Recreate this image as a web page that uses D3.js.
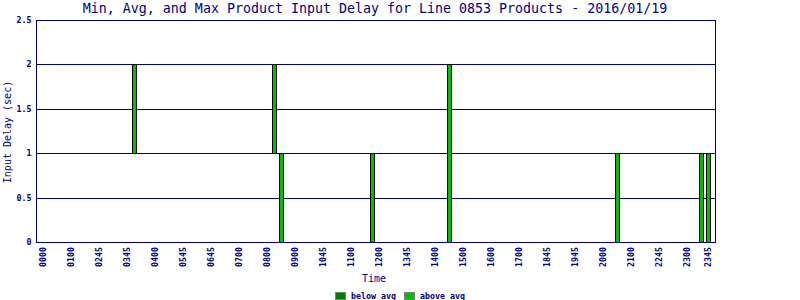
<!DOCTYPE html>
<html>
<head>
<meta charset="utf-8">
<script src="https://d3js.org/d3.v7.min.js"></script>
<style>
body { margin: 0; background: #fff; }
text { font-family: "DejaVu Sans Mono", monospace; fill: #000080; }
.small { font-size: 8.3px; font-weight: bold; }
</style>
</head>
<body>
<script>
// time slots along the x axis (only every 4th one is printed on the chart)
var times = [
  "0000","0015","0030","0045","0100","0130","0200","0230",
  "0245","0300","0315","0330","0345","0350","0352","0355",
  "0400","0430","0500","0530","0545","0600","0615","0630",
  "0645","0650","0655","0658","0700","0715","0730","0745",
  "0800","0815","0830","0845","0900","0945","1000","1030",
  "1045","1050","1055","1058","1100","1115","1130","1145",
  "1200","1230","1300","1330","1345","1350","1355","1358",
  "1400","1415","1430","1445","1500","1515","1530","1545",
  "1600","1615","1630","1645","1700","1730","1800","1830",
  "1845","1900","1915","1930","1945","1950","1955","1958",
  "2000","2015","2030","2045","2100","2130","2200","2230",
  "2245","2250","2255","2258","2300","2315","2330","2345"
];

var tickLabels = ["0000","0100","0245","0345","0400","0545","0645","0700","0800",
  "0900","1045","1100","1200","1345","1400","1500","1600","1700","1845","1945",
  "2000","2100","2245","2300","2345"];

// floating bars: min and max delay for each slot that had products
var barTimes = ["0350","0815","0830","1145","1430","2030","2330","2345"];
var minDelay = [1, 1, 0, 0, 0, 0, 0, 0];
var maxDelay = [2, 2, 1, 1, 2, 1, 1, 1];

var yTicks = [0, 0.5, 1, 1.5, 2, 2.5];

var legendNames = ["below avg", "above avg"];
var legendColors = ["#008000", "#00c000"];

var width = 800,
    height = 300;
var navy = "#000080";

var svg = d3.select("body").append("svg")
    .attr("width", width)
    .attr("height", height)
    .style("display", "block");

var x = d3.scaleBand()
    .domain(times)
    .range([40, 712]);

var y = d3.scaleLinear()
    .domain([0, 2.5])
    .range([242.5, 20.5]);

function py(v) { return Math.floor(y(v)) + 0.5; }

// title
svg.append("text")
    .attr("x", 375)
    .attr("y", 13)
    .attr("text-anchor", "middle")
    .style("font-size", "13.3px")
    .text("Min, Avg, and Max Product Input Delay for Line 0853 Products - 2016/01/19");

// grid lines
svg.append("g")
    .selectAll("line")
    .data(yTicks)
    .enter().append("line")
    .attr("x1", 36.5)
    .attr("x2", 715.5)
    .attr("y1", function(d) { return py(d); })
    .attr("y2", function(d) { return py(d); })
    .attr("stroke", navy)
    .attr("stroke-width", 1);

// bars
svg.append("g")
    .selectAll("rect")
    .data(barTimes)
    .enter().append("rect")
    .attr("x", function(d) { return x(d) + 1.5; })
    .attr("width", x.bandwidth() - 3)
    .attr("y", function(d, i) { return py(maxDelay[i]); })
    .attr("height", function(d, i) { return py(minDelay[i]) - py(maxDelay[i]); })
    .attr("fill", legendColors[1])
    .attr("stroke", "#000")
    .attr("stroke-width", 1);

// frame
svg.append("rect")
    .attr("x", 36.5)
    .attr("y", 20.5)
    .attr("width", 679)
    .attr("height", 222)
    .attr("fill", "none")
    .attr("stroke", navy);

// y tick labels
svg.append("g")
    .selectAll("text")
    .data(yTicks)
    .enter().append("text")
    .attr("class", "small")
    .attr("x", 31.5)
    .attr("y", function(d) { return py(d); })
    .attr("dy", "0.35em")
    .attr("text-anchor", "end")
    .text(function(d) { return d; });

// x tick labels, rotated
svg.append("g")
    .selectAll("text")
    .data(tickLabels)
    .enter().append("text")
    .attr("class", "small")
    .attr("transform", function(d) {
        return "translate(" + (x(d) + x.bandwidth() / 2) + ",247) rotate(-90)";
    })
    .attr("dy", "0.35em")
    .attr("text-anchor", "end")
    .text(function(d) { return d; });

// axis titles
svg.append("text")
    .attr("x", 374)
    .attr("y", 282)
    .attr("text-anchor", "middle")
    .style("font-size", "10px")
    .text("Time");

svg.append("text")
    .attr("transform", "translate(11,132) rotate(-90)")
    .attr("text-anchor", "middle")
    .style("font-size", "10px")
    .text("Input Delay (sec)");

// legend
var legend = svg.append("g")
    .selectAll("g")
    .data(legendNames)
    .enter().append("g")
    .attr("transform", function(d, i) { return "translate(" + (335 + i * 69) + ",292)"; });

legend.append("rect")
    .attr("x", 0.5)
    .attr("y", 0.5)
    .attr("width", 10)
    .attr("height", 7)
    .attr("fill", function(d, i) { return legendColors[i]; })
    .attr("stroke", "#808080");

legend.append("text")
    .attr("class", "small")
    .attr("x", 16)
    .attr("y", 6.5)
    .text(function(d) { return d; });
</script>
</body>
</html>
